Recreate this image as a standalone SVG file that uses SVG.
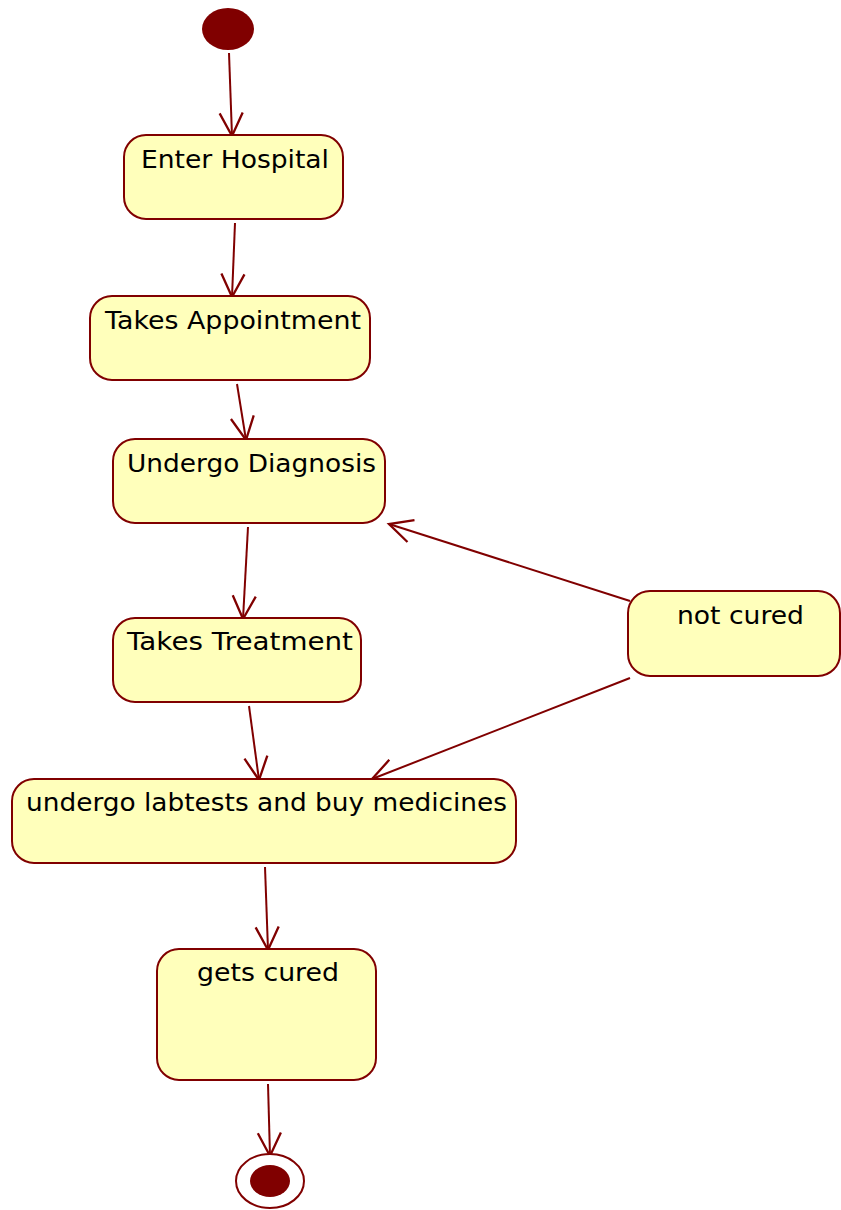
<svg xmlns="http://www.w3.org/2000/svg" width="841" height="1210" viewBox="0 0 841 1210">
<defs>
<marker id="arr" markerUnits="userSpaceOnUse" markerWidth="30" markerHeight="30" viewBox="-22 -12 26 24" refX="0" refY="0" orient="auto">
<path d="M-20,-10 L0,0 L-20,10" fill="none" stroke="#800000" stroke-width="2"/>
</marker>
</defs>
<style>
.box{fill:#ffffbb;stroke:#800000;stroke-width:2}
.lbl{font-family:"DejaVu Sans",Verdana,sans-serif;font-size:24px;fill:#000}
.edge{stroke:#800000;stroke-width:2;fill:none;marker-end:url(#arr)}
</style>
<rect width="841" height="1210" fill="#fff"/>
<g id="edges">
<line class="edge" x1="229" y1="53" x2="232" y2="136"/>
<line class="edge" x1="235" y1="223" x2="232" y2="297"/>
<line class="edge" x1="237" y1="384" x2="246" y2="440"/>
<line class="edge" x1="248" y1="527" x2="243" y2="619"/>
<line class="edge" x1="249" y1="706" x2="259" y2="780"/>
<line class="edge" x1="630" y1="601" x2="389" y2="524"/>
<line class="edge" x1="630" y1="678" x2="372" y2="779"/>
<line class="edge" x1="265" y1="867" x2="268" y2="950"/>
<line class="edge" x1="268" y1="1084" x2="270" y2="1156"/>
</g>
<g id="start"><ellipse cx="228" cy="29" rx="26" ry="21" fill="#800000"/></g>
<g id="enter"><rect class="box" x="124" y="135" width="219" height="84" rx="22"/><text class="lbl" x="141" y="168" textLength="188" lengthAdjust="spacingAndGlyphs">Enter Hospital</text></g>
<g id="appt"><rect class="box" x="90" y="296" width="280" height="84" rx="22"/><text class="lbl" x="105" y="329" textLength="256" lengthAdjust="spacingAndGlyphs">Takes Appointment</text></g>
<g id="diag"><rect class="box" x="113" y="439" width="272" height="84" rx="22"/><text class="lbl" x="127" y="472" textLength="249" lengthAdjust="spacingAndGlyphs">Undergo Diagnosis</text></g>
<g id="treat"><rect class="box" x="113" y="618" width="248" height="84" rx="22"/><text class="lbl" x="127" y="650" textLength="226" lengthAdjust="spacingAndGlyphs">Takes Treatment</text></g>
<g id="notcured"><rect class="box" x="628" y="591" width="212" height="85" rx="22"/><text class="lbl" x="677" y="624" textLength="127" lengthAdjust="spacingAndGlyphs">not cured</text></g>
<g id="lab"><rect class="box" x="12" y="779" width="504" height="84" rx="22"/><text class="lbl" x="26" y="811" textLength="481" lengthAdjust="spacingAndGlyphs">undergo labtests and buy medicines</text></g>
<g id="cured"><rect class="box" x="157" y="949" width="219" height="131" rx="22"/><text class="lbl" x="197" y="981" textLength="142" lengthAdjust="spacingAndGlyphs">gets cured</text></g>
<g id="end"><ellipse cx="270" cy="1181" rx="34" ry="27" fill="#fff" stroke="#800000" stroke-width="2"/><ellipse cx="270" cy="1181" rx="20" ry="16" fill="#800000"/></g>
</svg>
